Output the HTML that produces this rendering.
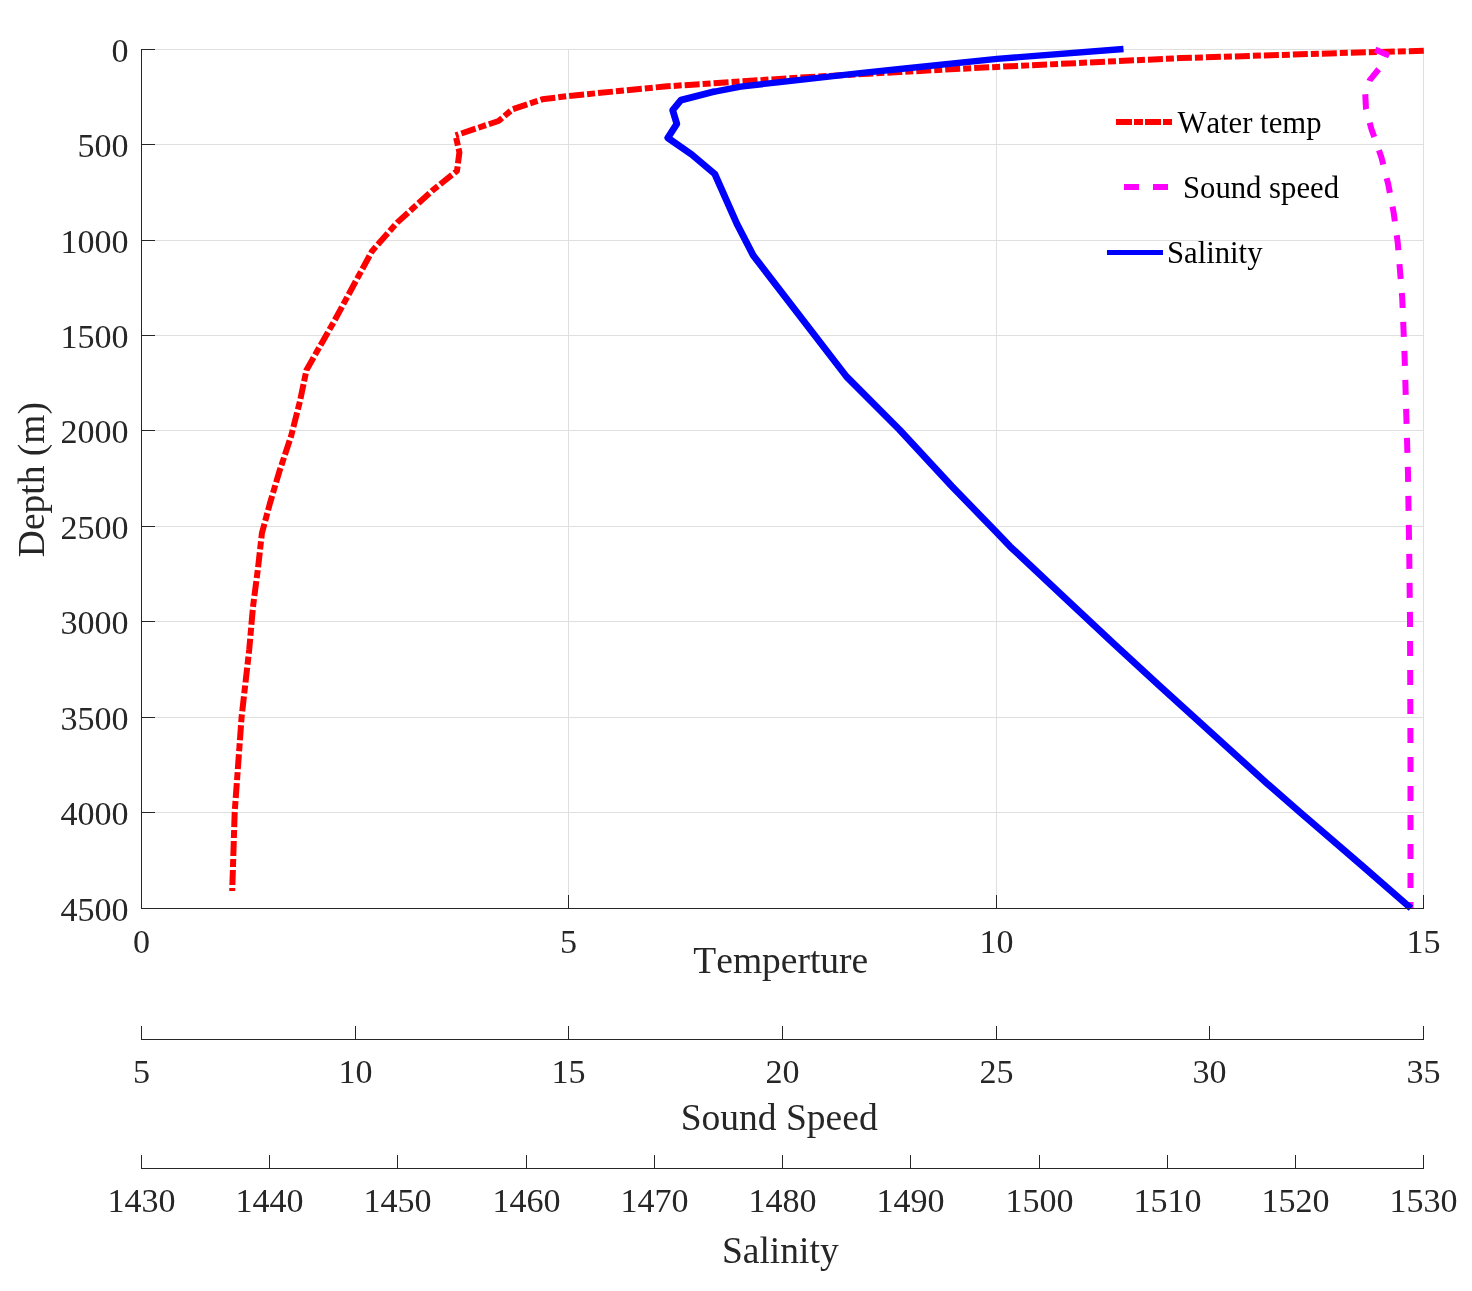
<!DOCTYPE html>
<html lang="en"><head><meta charset="utf-8"><title>Depth profile</title>
<style>html,body{margin:0;padding:0;background:#fff;}body{width:1472px;height:1291px;position:relative;overflow:hidden;}</style>
</head><body>
<svg width="1472" height="1291" viewBox="0 0 1472 1291" style="display:block;position:absolute;left:0;top:0">
<rect width="1472" height="1291" fill="#ffffff"/>
<g stroke="#dfdfdf" stroke-width="1" fill="none" shape-rendering="crispEdges">
<line x1="568.50" y1="49.5" x2="568.50" y2="908.5"/>
<line x1="996.50" y1="49.5" x2="996.50" y2="908.5"/>
<line x1="1423.50" y1="49.5" x2="1423.50" y2="908.5"/>
<line x1="141.5" y1="49.50" x2="1423.5" y2="49.50"/>
<line x1="141.5" y1="144.50" x2="1423.5" y2="144.50"/>
<line x1="141.5" y1="240.50" x2="1423.5" y2="240.50"/>
<line x1="141.5" y1="335.50" x2="1423.5" y2="335.50"/>
<line x1="141.5" y1="430.50" x2="1423.5" y2="430.50"/>
<line x1="141.5" y1="526.50" x2="1423.5" y2="526.50"/>
<line x1="141.5" y1="621.50" x2="1423.5" y2="621.50"/>
<line x1="141.5" y1="717.50" x2="1423.5" y2="717.50"/>
<line x1="141.5" y1="812.50" x2="1423.5" y2="812.50"/>
</g>
<path d="M1423.8,50.8 L1350.0,52.8 L1180.0,58.1 L1100.0,62.0 L997.0,66.9 L900.0,72.0 L800.0,77.5 L664.6,86.5 L568.6,96.0 L542.3,99.3 L512.4,109.3 L498.5,121.0 L455.6,135.4" fill="none" stroke="#ff0000" stroke-width="6.00" stroke-linejoin="round" stroke-dasharray="15 3 8 3" stroke-dashoffset="0.00"/>
<path d="M455.6,135.4 L459.4,152.3 L457.0,170.8 L432.3,190.6 L397.4,222.4 L372.0,251.2 L358.7,275.8 L333.6,322.3 L306.5,369.9 L299.9,401.6 L291.0,436.5 L279.4,471.3 L269.7,504.2 L261.9,533.3 L258.0,568.1 L253.0,606.8 L249.2,649.8 L241.6,717.0 L234.7,812.1 L232.2,891.0" fill="none" stroke="#ff0000" stroke-width="6.00" stroke-linejoin="round" stroke-dasharray="15 3 8 3" stroke-dashoffset="15.54"/>
<path d="M1374.5,49.3 L1386.5,54.6 L1380.5,67.0 L1369.8,80.1 L1365.2,93.2 L1366.0,108.7 L1371.4,129.1 L1381.3,156.9 L1388.3,184.6 L1393.7,213.0 L1397.7,242.3 L1402.2,297.7 L1404.6,356.4 L1406.3,415.0 L1408.0,473.6 L1409.3,558.3 L1410.0,620.0 L1410.5,760.0 L1410.5,908.5" fill="none" stroke="#ff00ff" stroke-width="6.00" stroke-linejoin="round" stroke-dasharray="15 14" stroke-dashoffset="28.23"/>
<path d="M1123.5,49.0 L997.0,58.9 L900.0,69.0 L860.0,73.1 L780.0,82.1 L740.7,86.6 L713.5,91.8" fill="none" stroke="#0000ff" stroke-width="6.36" stroke-linejoin="round"/>
<circle cx="713.5" cy="91.8" r="3.18" fill="#0000ff"/>
<path d="M713.5,91.8 L680.9,100.1 L672.7,110.2 L676.8,123.8 L667.8,137.9 L691.7,154.5 L714.8,174.0 L736.8,223.6 L753.2,255.4 L846.4,376.5 L899.4,429.6 L951.7,486.1 L996.6,532.4 L1010.0,546.4 L1070.0,602.8 L1114.1,644.0 L1160.0,686.3 L1200.0,722.5 L1267.0,783.4 L1300.0,812.3 L1362.0,865.6 L1410.9,908.2" fill="none" stroke="#0000ff" stroke-width="6.80" stroke-linejoin="round"/>
<g stroke="#262626" stroke-width="1" fill="none" shape-rendering="crispEdges">
<path d="M141.5,49.0 V908.5 H1424.0"/>
<line x1="141.0" y1="49.50" x2="155.0" y2="49.50"/>
<line x1="141.0" y1="144.50" x2="155.0" y2="144.50"/>
<line x1="141.0" y1="240.50" x2="155.0" y2="240.50"/>
<line x1="141.0" y1="335.50" x2="155.0" y2="335.50"/>
<line x1="141.0" y1="430.50" x2="155.0" y2="430.50"/>
<line x1="141.0" y1="526.50" x2="155.0" y2="526.50"/>
<line x1="141.0" y1="621.50" x2="155.0" y2="621.50"/>
<line x1="141.0" y1="717.50" x2="155.0" y2="717.50"/>
<line x1="141.0" y1="812.50" x2="155.0" y2="812.50"/>
<line x1="141.0" y1="908.50" x2="155.0" y2="908.50"/>
<line x1="141.50" y1="909.0" x2="141.50" y2="895.0"/>
<line x1="568.50" y1="909.0" x2="568.50" y2="895.0"/>
<line x1="996.50" y1="909.0" x2="996.50" y2="895.0"/>
<line x1="1423.50" y1="909.0" x2="1423.50" y2="895.0"/>
<line x1="141.0" y1="1039.5" x2="1424.0" y2="1039.5"/>
<line x1="141.50" y1="1040.0" x2="141.50" y2="1026.0"/>
<line x1="355.50" y1="1040.0" x2="355.50" y2="1026.0"/>
<line x1="568.50" y1="1040.0" x2="568.50" y2="1026.0"/>
<line x1="782.50" y1="1040.0" x2="782.50" y2="1026.0"/>
<line x1="996.50" y1="1040.0" x2="996.50" y2="1026.0"/>
<line x1="1209.50" y1="1040.0" x2="1209.50" y2="1026.0"/>
<line x1="1423.50" y1="1040.0" x2="1423.50" y2="1026.0"/>
<line x1="141.0" y1="1168.5" x2="1424.0" y2="1168.5"/>
<line x1="141.50" y1="1169.0" x2="141.50" y2="1155.0"/>
<line x1="269.50" y1="1169.0" x2="269.50" y2="1155.0"/>
<line x1="397.50" y1="1169.0" x2="397.50" y2="1155.0"/>
<line x1="526.50" y1="1169.0" x2="526.50" y2="1155.0"/>
<line x1="654.50" y1="1169.0" x2="654.50" y2="1155.0"/>
<line x1="782.50" y1="1169.0" x2="782.50" y2="1155.0"/>
<line x1="910.50" y1="1169.0" x2="910.50" y2="1155.0"/>
<line x1="1039.50" y1="1169.0" x2="1039.50" y2="1155.0"/>
<line x1="1167.50" y1="1169.0" x2="1167.50" y2="1155.0"/>
<line x1="1295.50" y1="1169.0" x2="1295.50" y2="1155.0"/>
<line x1="1423.50" y1="1169.0" x2="1423.50" y2="1155.0"/>
</g>
<g font-family='"Liberation Serif", "Times New Roman", serif' font-size="34.1" style="font-kerning:none" fill="#262626">
<g text-anchor="end">
<text x="128.6" y="61.60">0</text>
<text x="128.6" y="156.60">500</text>
<text x="128.6" y="252.60">1000</text>
<text x="128.6" y="347.60">1500</text>
<text x="128.6" y="442.60">2000</text>
<text x="128.6" y="538.60">2500</text>
<text x="128.6" y="633.60">3000</text>
<text x="128.6" y="729.60">3500</text>
<text x="128.6" y="824.60">4000</text>
<text x="128.6" y="920.60">4500</text>
</g><g text-anchor="middle">
<text x="141.50" y="952.7">0</text>
<text x="568.50" y="952.7">5</text>
<text x="996.50" y="952.7">10</text>
<text x="1423.50" y="952.7">15</text>
<text x="141.50" y="1082.5">5</text>
<text x="355.50" y="1082.5">10</text>
<text x="568.50" y="1082.5">15</text>
<text x="782.50" y="1082.5">20</text>
<text x="996.50" y="1082.5">25</text>
<text x="1209.50" y="1082.5">30</text>
<text x="1423.50" y="1082.5">35</text>
<text x="141.50" y="1211.8">1430</text>
<text x="269.50" y="1211.8">1440</text>
<text x="397.50" y="1211.8">1450</text>
<text x="526.50" y="1211.8">1460</text>
<text x="654.50" y="1211.8">1470</text>
<text x="782.50" y="1211.8">1480</text>
<text x="910.50" y="1211.8">1490</text>
<text x="1039.50" y="1211.8">1500</text>
<text x="1167.50" y="1211.8">1510</text>
<text x="1295.50" y="1211.8">1520</text>
<text x="1423.50" y="1211.8">1530</text>
</g></g>
<g font-family='"Liberation Serif", "Times New Roman", serif' font-size="37.5" style="font-kerning:none" fill="#262626" text-anchor="middle">
<text x="780.8" y="972.8">Temperture</text>
<text x="779.2" y="1129.8">Sound Speed</text>
<text x="780.3" y="1263.4">Salinity</text>
<text transform="translate(44.1,479.6) rotate(-90)" x="0" y="0">Depth (m)</text>
</g>
<g shape-rendering="crispEdges">
<rect x="1116" y="119" width="16" height="6" fill="#ff0000"/>
<rect x="1134" y="119" width="9" height="6" fill="#ff0000"/>
<rect x="1145" y="119" width="16" height="6" fill="#ff0000"/>
<rect x="1163" y="119" width="9" height="6" fill="#ff0000"/>
<rect x="1124" y="184" width="15" height="6" fill="#ff00ff"/>
<rect x="1153" y="184" width="15" height="6" fill="#ff00ff"/>
<rect x="1107" y="250" width="56" height="5" fill="#0000ff"/>
</g>
<g font-family='"Liberation Serif", "Times New Roman", serif' font-size="30.7" style="font-kerning:none" fill="#000000">
<text x="1177.5" y="132.6">Water temp</text>
<text x="1183" y="197.6">Sound speed</text>
<text x="1167" y="262.8">Salinity</text>
</g>
</svg>
</body></html>
